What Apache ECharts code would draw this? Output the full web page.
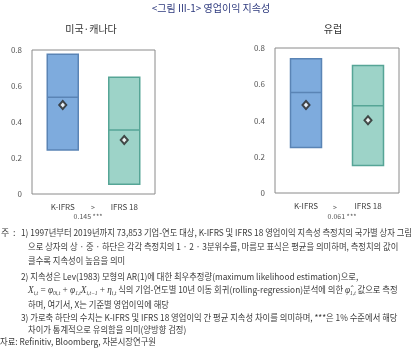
<!DOCTYPE html>
<html><head><meta charset="utf-8">
<script src="https://cdn.jsdelivr.net/npm/echarts@6/dist/echarts.min.js"></script>
<style>html,body{margin:0;padding:0;background:#fff}#c{width:414px;height:357px}</style>
</head><body><div id="c"></div>
<script>
const categories = ['K-IFRS', 'IFRS 18'];
const yTicks = [0, 0.2, 0.4, 0.6, 0.8];
// 미국·캐나다
const usQ1 = [0.244, 0.054];
const usMedian = [0.537, 0.356];
const usQ3 = [0.776, 0.648];
const usMean = [0.494, 0.300];
// 유럽
const euQ1 = [0.251, 0.152];
const euMedian = [0.554, 0.482];
const euQ3 = [0.741, 0.704];
const euMean = [0.486, 0.401];
const diffLabels = ['0.145 ***', '0.061 ***'];
const panelTitles = ['미국·캐나다', '유럽'];
const chartTitle = '<그림 III-1> 영업이익 지속성';

const FONT = '"Noto Sans CJK KR", "Noto Sans", sans-serif';
const fills = ['#7EABDD', '#9DD3C8'];
const borders = ['#5A84B5', '#56A596'];

function boxData(q1, med, q3) {
  return q1.map((v, i) => ({
    value: [q1[i], q1[i], med[i], q3[i], q3[i]],
    itemStyle: { color: fills[i], borderColor: borders[i], borderWidth: 1.5 }
  }));
}

const grids = [
  { left: 32, top: 50, width: 123, height: 144 },
  { left: 275, top: 48, width: 124, height: 145 }
];

const chart = echarts.init(document.getElementById('c'), null, { renderer: 'canvas' });

function axisX(idx) {
  return {
    type: 'category', gridIndex: idx, data: categories,
    axisLine: { show: false }, axisTick: { show: false },
    axisLabel: { fontSize: 8, color: '#444', margin: 9, fontFamily: FONT }
  };
}
function axisY(idx) {
  return {
    type: 'value', gridIndex: idx, min: yTicks[0], max: yTicks[yTicks.length - 1], interval: 0.2,
    axisLine: { show: false }, axisTick: { show: false }, splitLine: { show: false },
    axisLabel: { fontSize: 8, color: '#555', margin: 10, fontFamily: FONT,
      formatter: v => (v === 0 ? '0' : v.toFixed(1)) }
  };
}

const NOTE_SIZE = 9;
const cv = document.createElement('canvas').getContext('2d');
cv.font = NOTE_SIZE + 'px ' + FONT;
const line1 = '1) 1997년부터 2019년까지 73,853 기업-연도 대상, K-IFRS 및 IFRS 18 영업이익 지속성 측정치의 국가별 상자 그림';
const sx = 391 / cv.measureText(line1).width;

const noteColor = '#3a3a3a';
function note(x, y, text) {
  return { type: 'text', left: x, top: y, scaleX: sx, originX: 0,
    style: { text: text, fontSize: NOTE_SIZE, fontFamily: FONT, fill: noteColor } };
}

const noteLines = [
  [21, 228, line1],
  [28, 242, '으로 상자의 상 · 중 · 하단은 각각 측정치의 1 · 2 · 3분위수를, 마름모 표식은 평균을 의미하며, 측정치의 값이'],
  [28, 256, '클수록 지속성이 높음을 의미'],
  [21, 272, '2) 지속성은 Lev(1983) 모형의 AR(1)에 대한 최우추정량(maximum likelihood estimation)으로,'],
  [28, 300, '하며, 여기서, X는 기준별 영업이익에 해당'],
  [21, 313, '3) 가로축 하단의 수치는 K-IFRS 및 IFRS 18 영업이익 간 평균 지속성 차이를 의미하며, ***은 1% 수준에서 해당'],
  [28, 325, '차이가 통계적으로 유의함을 의미(양방향 검정)'],
  [0, 337, '자료: Refinitiv, Bloomberg, 자본시장연구원']
];

function centerText(x, y, text, size, color) {
  return { type: 'text', x: x, y: y,
    style: { text: text, fontSize: size, fontFamily: FONT, fill: color, align: 'center', verticalAlign: 'middle' } };
}

const graphics = [
  centerText(211, 8, chartTitle, 10, '#2E3A7E'),
  centerText(91, 29, panelTitles[0], 10, '#333'),
  centerText(333, 29, panelTitles[1], 10, '#333'),
  centerText(93, 207, '>', 7, '#555'),
  centerText(335, 207, '>', 7, '#555'),
  centerText(88, 216, diffLabels[0], 7, '#555'),
  centerText(342, 216, diffLabels[1], 7, '#555'),
  { type: 'text', left: 1, top: 228, style: { text: '주', fontSize: NOTE_SIZE, fontFamily: FONT, fill: noteColor } },
  { type: 'text', left: 13, top: 228, style: { text: ':', fontSize: NOTE_SIZE, fontFamily: FONT, fill: noteColor } },
  {
    type: 'text', left: 28, top: 285, scaleX: sx, originX: 0,
    style: {
      text: '{v|X}{s|i,t}{o| = }{v|φ}{s|0i,t}{o| + }{v|φ}{s|1,t}{v|X}{s|i,t−1}{o| + }{v|η}{s|i,t}{k| 식의 기업-연도별 10년 이동 회귀(rolling-regression)분석에 의한 }{v|φ̂}{s|1,t}{k| 값으로 측정}',
      fill: noteColor,
      rich: {
        v: { fontFamily: '"Liberation Serif", serif', fontStyle: 'italic', fontSize: 10, lineHeight: 13, fill: noteColor },
        o: { fontFamily: '"Liberation Serif", serif', fontSize: 10, lineHeight: 13, fill: noteColor },
        s: { fontFamily: '"Liberation Serif", serif', fontStyle: 'italic', fontSize: 6, lineHeight: 13, verticalAlign: 'bottom', fill: noteColor },
        k: { fontFamily: FONT, fontSize: NOTE_SIZE, lineHeight: 13, fill: noteColor }
      }
    }
  }
];
noteLines.forEach(l => graphics.push(note(l[0], l[1], l[2])));

chart.setOption({
  animation: false,
  backgroundColor: '#fff',
  grid: grids.map(g => Object.assign({ show: true, borderColor: '#8a8a8a', borderWidth: 1, backgroundColor: 'transparent' }, g)),
  xAxis: [axisX(0), axisX(1)],
  yAxis: [axisY(0), axisY(1)],
  series: [
    { type: 'boxplot', xAxisIndex: 0, yAxisIndex: 0, boxWidth: [31, 31], data: boxData(usQ1, usMedian, usQ3) },
    { type: 'boxplot', xAxisIndex: 1, yAxisIndex: 1, boxWidth: [31, 31], data: boxData(euQ1, euMedian, euQ3) },
    { type: 'scatter', xAxisIndex: 0, yAxisIndex: 0, symbol: 'emptyDiamond', symbolSize: [7, 8],
      itemStyle: { color: '#222', borderWidth: 1 }, data: usMean.map((v, i) => [categories[i], v]), z: 5 },
    { type: 'scatter', xAxisIndex: 1, yAxisIndex: 1, symbol: 'emptyDiamond', symbolSize: [7, 8],
      itemStyle: { color: '#222', borderWidth: 1 }, data: euMean.map((v, i) => [categories[i], v]), z: 5 }
  ],
  graphic: graphics
});
</script></body></html>
